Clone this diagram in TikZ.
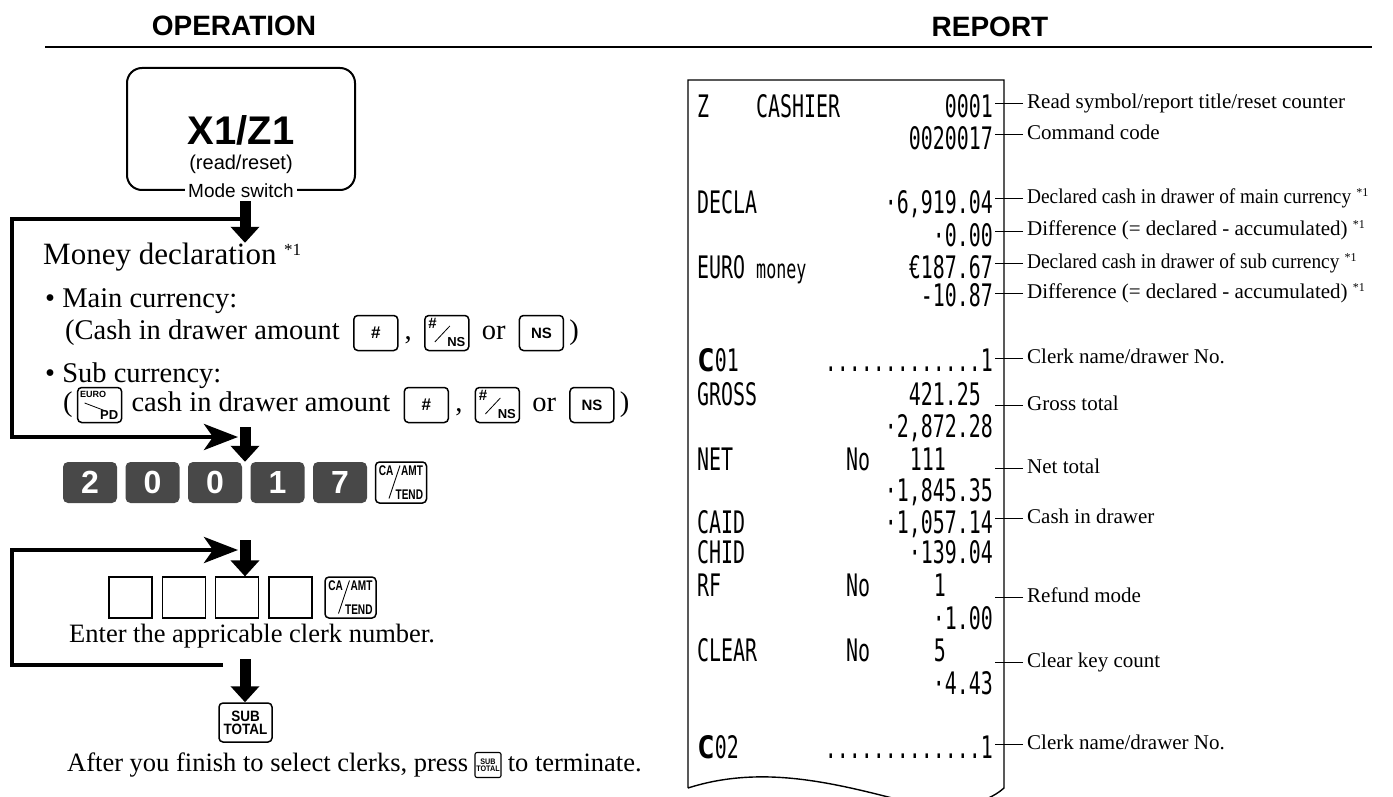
\documentclass[tikz,border=0pt]{standalone}
\usepackage{fontspec}
\setmainfont{Liberation Serif}
\newfontfamily\arialfont{Liberation Sans}
\newfontfamily\keyfont[FakeStretch=0.9]{Liberation Sans}
\newfontfamily\narrowfont[FakeStretch=0.72]{Liberation Sans}
\newfontfamily\dotfont[FakeStretch=0.643]{DejaVu Sans Mono}
\newfontfamily\dotwide[FakeStretch=0.95]{DejaVu Sans Mono}
\usetikzlibrary{positioning,arrows.meta}
\definecolor{keygray}{RGB}{72,72,72}
\newcommand{\fsz}[1]{\fontsize{#1}{#1}\selectfont}
\newcommand{\fnmark}{\ {\fsz{12}\raisebox{7pt}{*1}}}

\tikzset{
  heading/.style={font=\arialfont\bfseries\fsz{28}, inner sep=0pt},
  modebox/.style={draw, line width=2pt, rounded corners=15pt, minimum width=228pt, minimum height=122pt},
  bodylg/.style={font=\fsz{31}, inner sep=0pt, text height=21pt, text depth=7pt},
  body/.style={font=\fsz{28.5}, inner sep=0pt, text height=19pt, text depth=6pt},
  bodysm/.style={font=\fsz{26.5}, inner sep=0pt, text height=18pt, text depth=6pt},
  keyb/.style={draw, line width=1.5pt, rounded corners=4pt, minimum width=44pt, minimum height=35pt, inner sep=0pt, font=\arialfont\bfseries\fsz{17}},
  numkey/.style={fill=keygray, rounded corners=5pt, minimum width=54pt, minimum height=41pt, inner sep=0pt, text=white, font=\arialfont\bfseries\fsz{32}},
  tendkey/.style={keyb, minimum width=51pt, minimum height=41pt},
  clerkbox/.style={draw, line width=1.2pt, minimum width=43pt, minimum height=41pt, inner sep=0pt},
  keytiny/.style={inner sep=0pt, font=\narrowfont\bfseries\fsz{14}},
  flowline/.style={line width=4.5pt},
  loopline/.style={flowline, -{Stealth[length=34pt, width=26pt, inset=9pt]}},
  downarrow/.style={line width=11pt, -{Triangle[length=16pt, width=28pt]}},
  rtxt/.style={font=\dotfont\fsz{31}, inner sep=0pt, text height=23pt, text depth=0pt},
  lbl/.style={font=\fsz{21}, inner sep=0pt, text height=14pt, text depth=4pt, anchor=west},
}

\begin{document}
\begin{tikzpicture}[x=1pt, y=-1pt]
    \useasboundingbox (0,0) rectangle (1393,797);

    % Headings
    \node[heading] (ophead) at (234,26) {OPERATION};
    \node[heading] (rephead) at (990,27) {REPORT};
    \draw[line width=2.5pt] (45,47) -- (1372,47);

    % Mode switch
    \node[modebox] (mode) at (241,129) {};
    \node[inner sep=0pt, font=\arialfont\bfseries\fsz{40}] (modekey) at (241,130) {X1/Z1};
    \node[inner sep=0pt, font=\arialfont\fsz{20}] (modenote) at (241,164) {(read/reset)};
    \node[fill=white, inner sep=3pt, font=\arialfont\fsz{19}] (modename) at (mode.south) {Mode switch};

    % Money declaration
    \coordinate (ax) at (245,0);
    \node[bodylg, anchor=west] (money) at (43,257) {Money declaration {\fsz{17}\raisebox{9pt}{*1}}};
    \node[body, anchor=west] (maincur) at (45,301) {• Main currency:};
    \node[body, anchor=west] (maintxt) at (65,333) {(Cash in drawer amount};
    \node[keyb, right=13pt of maintxt] (mhash) {\#};
    \node[body, right=6pt of mhash] (mcomma) {,};
    \node[keyb, right=12pt of mcomma] (mhns) {};
    \node[body, right=12pt of mhns] (mor) {or};
    \node[keyb, right=13pt of mor, font=\arialfont\bfseries\fsz{15}] (mns) {NS};
    \node[body, right=5pt of mns] (mclose) {)};

    \node[body, anchor=west] (subcur) at (45,376) {• Sub currency:};
    \node[body, anchor=west] (eopen) at (63,405) {(};
    \node[keyb, right=4pt of eopen] (euro) {};
    \node[body, right=9pt of euro] (etxt) {cash in drawer amount};
    \node[keyb, right=13pt of etxt] (ehash) {\#};
    \node[body, right=6pt of ehash] (ecomma) {,};
    \node[keyb, right=12pt of ecomma] (ehns) {};
    \node[body, right=12pt of ehns] (eor) {or};
    \node[keyb, right=13pt of eor, font=\arialfont\bfseries\fsz{15}] (ens) {NS};
    \node[body, right=5pt of ens] (eclose) {)};

    % key faces
    \foreach \k in {mhns,ehns} {
        \node[inner sep=0pt, font=\arialfont\bfseries\fsz{15}, anchor=north west] (\k-h) at ([shift={(4,3)}]\k.north west) {\#};
        \node[inner sep=0pt, font=\arialfont\bfseries\fsz{13}, anchor=south east] (\k-n) at ([shift={(-4,-4)}]\k.south east) {NS};
        \draw[line width=0.8pt] ([shift={(-12,9)}]\k.center) -- ([shift={(3,-7)}]\k.center);
    }
    \node[inner sep=0pt, font=\arialfont\bfseries\fsz{9}, anchor=north west] (euro-t) at ([shift={(3,4)}]euro.north west) {EURO};
    \node[inner sep=0pt, font=\arialfont\bfseries\fsz{13}, anchor=south east] (euro-b) at ([shift={(-4,-4)}]euro.south east) {PD};
    \draw[line width=0.8pt] ([shift={(-15,-2)}]euro.center) -- ([shift={(6,6)}]euro.center);

    % Command code keys
    \foreach \d [count=\i from 0] in {2,0,0,1,7}
        \node[numkey] (num\i) at (90+62.5*\i,482.5) {\d};
    \node[tendkey] (tend1) at (401,482.5) {};

    % Clerk number
    \foreach \i in {0,...,3}
        \node[clerkbox] (cbox\i) at (130.5+53.3*\i,597.5) {};
    \node[tendkey] (tend2) at (350.5,597.5) {};
    \node[bodysm, anchor=west] (enter) at (69,636) {Enter the appricable clerk number.};

    \foreach \k in {tend1,tend2} {
        \node[keytiny, anchor=north west] (\k-ca) at ([shift={(4,4)}]\k.north west) {CA};
        \node[keytiny, anchor=north east] (\k-amt) at ([shift={(-4,4)}]\k.north east) {AMT};
        \node[keytiny, anchor=south east] (\k-tend) at ([shift={(-4,-4)}]\k.south east) {TEND};
        \draw[line width=0.9pt] ([shift={(-12,16)}]\k.center) -- ([shift={(-1,-17)}]\k.center);
    }

    % Subtotal
    \node[keyb, minimum width=53pt, minimum height=39pt, align=center, font=\keyfont\bfseries\fsz{15}] (subtot) at (245.5,722.5) {SUB\\[-2pt]TOTAL};
    \node[bodysm, anchor=west] (after1) at (67,765) {After you finish to select clerks, press};
    \node[keyb, line width=1.1pt, rounded corners=2pt, minimum width=26pt, minimum height=25pt, right=6pt of after1, align=center, font=\keyfont\bfseries\fsz{8}] (subtot2) {SUB\\[-1pt]TOTAL};
    \node[bodysm, right=6pt of subtot2] (after2) {to terminate.};

    % Flow arrows
    \coordinate (l1a) at (12,219);
    \coordinate (l1b) at (12,437);
    \coordinate (l1c) at (238,437);
    \coordinate (a2s) at (245,427);
    \coordinate (l2a) at (223,665);
    \coordinate (l2b) at (12,665);
    \coordinate (l2c) at (12,550);
    \coordinate (l2d) at (238,550);
    \coordinate (a3s) at (245,540);
    \coordinate (a4s) at (245,659);
    \draw[downarrow] (modename.south -| ax) -- (money.north -| ax);
    \draw[loopline] (ax |- l1a) -- (l1a) -- (l1b) -- (l1c);
    \draw[downarrow] (a2s) -- (num2.north -| ax);
    \draw[loopline] (l2a) -- (l2b) -- (l2c) -- (l2d);
    \draw[downarrow] (a3s) -- (cbox2.north -| ax);
    \draw[downarrow] (a4s) -- (subtot.north -| ax);

    % Receipt
    \draw[line width=1.4pt] (688,788) -- (688,80) -- (1004,80) -- (1004,788)
        .. controls (985,805) and (950,812) .. (900,800)
        .. controls (830,782) and (760,765) .. (688,788);
    \foreach \y/\lft/\rgt/\rx [count=\i] in {
        106/Z/0001/993,
        138//0020017/993,
        202/DECLA/{·6,919.04}/993,
        235//{·0.00}/993,
        267/EURO/{€187.67}/993,
        295//{-10.87}/993,
        394/GROSS/421.25/981,
        426//{·2,872.28}/993,
        459/NET/111/946,
        490//{·1,845.35}/993,
        522/CAID/{·1,057.14}/993,
        552/CHID/{·139.04}/993,
        585/RF/1/946,
        618//{·1.00}/993,
        650/CLEAR/5/946,
        683//{·4.43}/993}
    {
        \node[rtxt, anchor=west] (rl\i) at (697,\y) {\lft};
        \node[rtxt, anchor=east] (rr\i) at (\rx,\y) {\rgt};
    }
    \node[rtxt, anchor=west] (cashier) at (756,106) {CASHIER};
    \node[rtxt, anchor=west, font=\dotfont\fsz{26}] (euromoney) at (756,267) {money};
    \foreach \y in {459,585,650}
        \node[rtxt, anchor=west] (no\y) at (846,\y) {No};
    \node[rtxt, anchor=west] (clerk1) at (697,360) {{\dotwide\bfseries C}01};
    \node[rtxt, anchor=east] (clerk1no) at (993,360) {.............1};
    \node[rtxt, anchor=west] (clerk2) at (697,747) {{\dotwide\bfseries C}02};
    \node[rtxt, anchor=east] (clerk2no) at (993,747) {.............1};

    % Annotations
    \coordinate (tickx) at (995,0);
    \foreach \y/\t [count=\i] in {
        104/{Read symbol/report title/reset counter},
        135/{Command code},
        199/{\scalebox{0.92}[1]{Declared cash in drawer of main currency}\fnmark},
        231/{Difference (= declared - accumulated)\fnmark},
        263/{\scalebox{0.92}[1]{Declared cash in drawer of sub currency}\fnmark},
        293/{Difference (= declared - accumulated)\fnmark},
        358/{Clerk name/drawer No.},
        405/{Gross total},
        468/{Net total},
        518/{Cash in drawer},
        597/{Refund mode},
        662/{Clear key count},
        744/{Clerk name/drawer No.}}
    {
        \node[lbl] (lbl\i) at (1027,\y) {\t};
        \draw[line width=1pt] ([xshift=-4pt]lbl\i.west) -- (lbl\i.west -| tickx);
    }
\end{tikzpicture}
\end{document}
